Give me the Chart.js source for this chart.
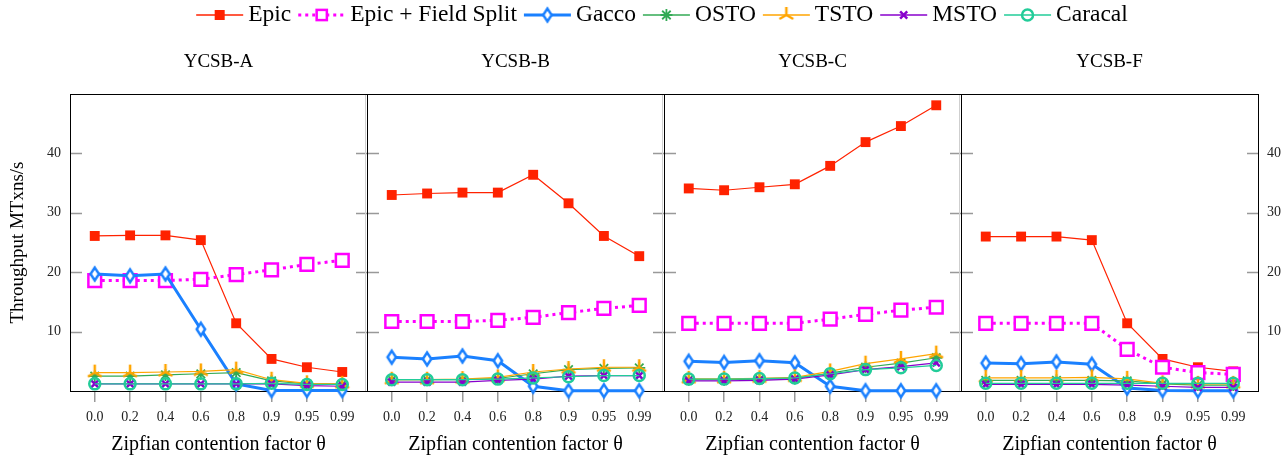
<!DOCTYPE html>
<html><head><meta charset="utf-8">
<script src="https://cdn.jsdelivr.net/npm/chart.js@4.4.0/dist/chart.umd.min.js"></script>
<style>
html,body{margin:0;padding:0;background:#fff;}
#wrap{position:relative;width:1287px;height:461px;overflow:hidden;background:#fff;}
canvas{position:absolute;top:0;}
</style></head><body><div id="wrap"></div>
<script>
// ---------- data ----------
const categories = ['0.0','0.2','0.4','0.6','0.8','0.9','0.95','0.99'];
const panelTitles = ['YCSB-A','YCSB-B','YCSB-C','YCSB-F'];
const yTicks = [10,20,30,40];
const seriesNames = ['Epic','Epic + Field Split','Gacco','OSTO','TSTO','MSTO','Caracal'];

const epicA    = [26.1, 26.2, 26.2, 25.4, 11.4, 5.4, 4.0, 3.2];
const epicFsA  = [18.6, 18.6, 18.6, 18.8, 19.6, 20.4, 21.3, 22.0];
const gaccoA   = [19.7, 19.4, 19.7, 10.4, 1.2, 0.1, 0.1, 0.1];
const ostoA    = [2.5, 2.5, 2.7, 2.9, 3.1, 1.7, 1.2, 1.1];
const tstoA    = [3.1, 3.1, 3.2, 3.3, 3.6, 1.9, 1.3, 1.2];
const mstoA    = [1.2, 1.2, 1.2, 1.2, 1.2, 1.2, 0.9, 0.8];
const caracalA = [1.2, 1.2, 1.2, 1.2, 1.2, 1.3, 1.1, 1.1];

const epicB    = [33.0, 33.25, 33.4, 33.4, 36.4, 31.6, 26.1, 22.7];
const epicFsB  = [11.7, 11.7, 11.7, 11.9, 12.4, 13.2, 13.9, 14.4];
const gaccoB   = [5.7, 5.4, 5.9, 5.1, 0.8, 0.05, 0.05, 0.05];
const ostoB    = [1.9, 1.9, 1.9, 2.1, 2.9, 3.6, 3.8, 3.9];
const tstoB    = [1.9, 1.9, 2.0, 2.3, 3.2, 3.7, 4.0, 4.0];
const mstoB    = [1.5, 1.5, 1.5, 1.8, 2.0, 2.5, 2.6, 2.6];
const caracalB = [1.9, 1.9, 1.9, 2.0, 2.2, 2.4, 2.6, 2.6];

const epicC    = [34.1, 33.8, 34.3, 34.8, 37.9, 41.9, 44.6, 48.1];
const epicFsC  = [11.4, 11.4, 11.4, 11.4, 12.1, 12.9, 13.6, 14.1];
const gaccoC   = [5.0, 4.8, 5.1, 4.75, 0.8, 0.05, 0.05, 0.05];
const ostoC    = [1.9, 1.9, 2.0, 2.1, 3.0, 4.0, 4.7, 5.6];
const tstoC    = [2.05, 2.05, 2.15, 2.3, 3.3, 4.6, 5.4, 6.3];
const mstoC    = [1.7, 1.7, 1.8, 2.0, 2.7, 3.6, 4.1, 4.75];
const caracalC = [2.0, 2.0, 2.1, 2.2, 2.9, 3.6, 3.9, 4.3];

const epicF    = [26.0, 26.0, 26.0, 25.4, 11.4, 5.4, 4.0, 3.3];
const epicFsF  = [11.4, 11.4, 11.4, 11.4, 7.0, 4.0, 3.1, 2.8];
const gaccoF   = [4.7, 4.6, 4.9, 4.5, 0.5, 0.1, 0.05, 0.05];
const ostoF    = [1.8, 1.8, 1.8, 1.8, 1.7, 1.2, 1.0, 1.0];
const tstoF    = [2.2, 2.2, 2.2, 2.3, 2.05, 1.3, 1.2, 1.2];
const mstoF    = [1.1, 1.1, 1.1, 1.1, 1.0, 0.8, 0.6, 0.6];
const caracalF = [1.3, 1.3, 1.3, 1.3, 1.3, 1.3, 1.3, 1.3];

const panels = [
  [epicA, epicFsA, gaccoA, ostoA, tstoA, mstoA, caracalA],
  [epicB, epicFsB, gaccoB, ostoB, tstoB, mstoB, caracalB],
  [epicC, epicFsC, gaccoC, ostoC, tstoC, mstoC, caracalC],
  [epicF, epicFsF, gaccoF, ostoF, tstoF, mstoF, caracalF]
];

// ---------- styles ----------
const FONT = "'Liberation Serif','Times New Roman',serif";
const colors = ['#ff2200','#ff00ff','#1a80ff','#33aa55','#ffa500','#8800cc','#22cc99'];

function makeDiamond(color){
  const c=document.createElement('canvas'); c.width=16; c.height=20;
  const x=c.getContext('2d'); x.beginPath();
  x.moveTo(8,3.6); x.lineTo(12.2,10); x.lineTo(8,16.4); x.lineTo(3.8,10); x.closePath();
  x.fillStyle='#fff'; x.fill(); x.lineWidth=2.5; x.strokeStyle=color; x.stroke(); return c;
}
function makeTri(color){
  const c=document.createElement('canvas'); c.width=20; c.height=20;
  const x=c.getContext('2d'); x.beginPath();
  x.moveTo(10,10); x.lineTo(10,2);
  x.moveTo(10,10); x.lineTo(3.1,14);
  x.moveTo(10,10); x.lineTo(16.9,14);
  x.lineWidth=2.5; x.strokeStyle=color; x.lineCap='butt'; x.stroke(); return c;
}
const diamondImg = makeDiamond(colors[2]);
const triImg = makeTri(colors[4]);

function styleFor(i){
  const c = colors[i];
  const base = {borderColor:c, backgroundColor:c, borderWidth:1.2, pointBorderColor:c, pointBackgroundColor:c, tension:0};
  switch(i){
    case 0: return Object.assign(base,{pointStyle:'rect', pointRadius:7, pointBorderWidth:0});
    case 1: return Object.assign(base,{borderWidth:3, borderDash:[3,4], pointStyle:'rect', pointRadius:9, pointBorderWidth:2.5, pointBackgroundColor:'#fff'});
    case 2: return Object.assign(base,{borderWidth:3, pointStyle:diamondImg});
    case 3: return Object.assign(base,{pointStyle:'star', pointRadius:6, pointBorderWidth:1.8});
    case 4: return Object.assign(base,{pointStyle:triImg});
    case 5: return Object.assign(base,{pointStyle:'crossRot', pointRadius:5, pointBorderWidth:2.5});
    case 6: return Object.assign(base,{pointStyle:'circle', pointRadius:5.5, pointBorderWidth:2.5, pointBackgroundColor:'rgba(0,0,0,0)'});
  }
}

const framePlugin = {
  id:'frame',
  beforeDatasetsDraw(chart, args, opts){
    const ctx = chart.ctx, a = chart.chartArea, ys = chart.scales.y;
    const L = Math.round(a.left), R = Math.round(a.right), T = Math.round(a.top), B = Math.round(a.bottom);
    ctx.save();
    ctx.strokeStyle = '#999'; ctx.lineWidth = 1.5;
    yTicks.forEach(v=>{
      const py = Math.round(ys.getPixelForValue(v))+0.5;
      ctx.beginPath();
      ctx.moveTo(L, py); ctx.lineTo(L+12, py);
      ctx.moveTo(R-11, py); ctx.lineTo(R+1, py);
      ctx.stroke();
    });
    if (!opts.last){
      ctx.strokeStyle = '#cfcfcf'; ctx.lineWidth = 1;
      ctx.beginPath(); ctx.moveTo(R-1.5, T); ctx.lineTo(R-1.5, B); ctx.stroke();
    }
    ctx.strokeStyle = '#000'; ctx.lineWidth = 1;
    ctx.strokeRect(L+0.5, T+0.5, R-L, B-T);
    ctx.restore();
  }
};

const wrap = document.getElementById('wrap');
const plotLefts = [70, 367, 664, 961];

panels.forEach((series, idx)=>{
  const cv = document.createElement('canvas');
  cv.width = 437; cv.height = 461; cv.style.left = (plotLefts[idx]-70)+'px';
  wrap.appendChild(cv);
  const isFirst = idx===0, isLast = idx===3;
  const yCommon = (pos, showTicks)=>({
    type:'linear', position:pos, min:0, max:50,
    afterBuildTicks: s=>{ s.ticks = yTicks.map(v=>({value:v})); },
    ticks:{display:showTicks, font:{family:FONT,size:14}, color:'#222', padding:9},
    grid:{display:false, drawTicks:false}, border:{display:false},
    afterFit: s=>{ s.width = 70; }
  });
  const yL = yCommon('left', isFirst);
  yL.title = {display:isFirst, text:'Throughput MTxns/s', font:{family:FONT,size:19}, color:'#000', padding:{top:7,bottom:0}};
  const yR = yCommon('right', isLast);
  new Chart(cv, {
    type:'line',
    data:{datasets: series.map((vals,i)=>Object.assign({
      label: seriesNames[i],
      data: vals.map((v,k)=>({x:k, y:v})),
      clip:false, order:6-i, yAxisID:'y'
    }, styleFor(i)))},
    options:{
      responsive:false, animation:false, events:[],
      layout:{padding:0},
      plugins:{
        legend:{display:false}, tooltip:{enabled:false},
        title:{display:true, text:panelTitles[idx], font:{family:FONT,size:19,weight:'normal'}, color:'#000', padding:{top:50.6,bottom:20.6}},
        frame:{last:isLast}
      },
      scales:{
        x:{
          type:'linear', min:-0.7, max:7.7,
          afterBuildTicks: s=>{ s.ticks = categories.map((c,k)=>({value:k})); },
          ticks:{callback:(v,k)=>categories[k], font:{family:FONT,size:14}, color:'#222', padding:6.5, maxRotation:0, autoSkip:false},
          grid:{drawOnChartArea:false, drawTicks:true, tickLength:11, color:'#999', lineWidth:1.5},
          border:{display:false},
          title:{display:true, text:'Zipfian contention factor θ', font:{family:FONT,size:20}, color:'#000', padding:{top:0,bottom:4}},
          afterFit: s=>{ s.height = 70; }
        },
        y: yL,
        y2: yR
      }
    },
    plugins:[framePlugin]
  });
});

// ---------- legend ----------
function drawMarker(ctx, i, x, y){
  const c = colors[i];
  ctx.save();
  ctx.strokeStyle = c; ctx.fillStyle = c; ctx.setLineDash([]);
  if (i===0){ ctx.fillRect(x-5, y-5, 10, 10); }
  else if (i===1){ ctx.fillStyle='#fff'; ctx.fillRect(x-6.3,y-6.3,12.6,12.6); ctx.lineWidth=2.5; ctx.strokeRect(x-5.1,y-5.1,10.2,10.2); }
  else if (i===2){ ctx.drawImage(diamondImg, x-8, y-10); }
  else if (i===3){ ctx.lineWidth=1.8; ctx.beginPath();
    for (let k=0;k<4;k++){ const a=k*Math.PI/4; ctx.moveTo(x-6*Math.cos(a), y-6*Math.sin(a)); ctx.lineTo(x+6*Math.cos(a), y+6*Math.sin(a)); }
    ctx.stroke(); }
  else if (i===4){ ctx.drawImage(triImg, x-10, y-10); }
  else if (i===5){ ctx.lineWidth=2.5; ctx.beginPath(); const r=5*Math.SQRT1_2;
    ctx.moveTo(x-r,y-r); ctx.lineTo(x+r,y+r); ctx.moveTo(x-r,y+r); ctx.lineTo(x+r,y-r); ctx.stroke(); }
  else if (i===6){ ctx.lineWidth=2.5; ctx.beginPath(); ctx.arc(x,y,5.5,0,Math.PI*2); ctx.stroke(); }
  ctx.restore();
}
const legendPlugin = {
  id:'customLegend',
  afterDraw(chart){
    const ctx = chart.ctx;
    ctx.save();
    ctx.font = '23.5px ' + FONT;
    const lineLen = 47, gap1 = 5, gap2 = 7;
    const names = chart.data.datasets.map(d=>d.label);
    const widths = names.map(n=>ctx.measureText(n).width);
    const total = widths.reduce((s,w)=>s+lineLen+gap1+w,0) + gap2*(names.length-1);
    let x = 662 - total/2; const y = 15;
    names.forEach((n,i)=>{
      const ds = chart.data.datasets[i];
      ctx.strokeStyle = colors[i]; ctx.lineWidth = Math.max(1.4, ds.borderWidth);
      ctx.setLineDash(ds.borderDash || []);
      ctx.beginPath(); ctx.moveTo(x, y); ctx.lineTo(x+lineLen, y); ctx.stroke();
      ctx.setLineDash([]);
      drawMarker(ctx, i, x+lineLen/2, y);
      ctx.fillStyle = '#000'; ctx.textBaseline = 'middle'; ctx.textAlign = 'left';
      ctx.fillText(n, x+lineLen+gap1, y);
      x += lineLen + gap1 + widths[i] + gap2;
    });
    ctx.restore();
  }
};
const lc = document.createElement('canvas');
lc.width = 1287; lc.height = 32; lc.style.left = '0px';
wrap.appendChild(lc);
new Chart(lc, {
  type:'line',
  data:{datasets: seriesNames.map((n,i)=>Object.assign({label:n, data:[]}, styleFor(i)))},
  options:{responsive:false, animation:false, events:[],
    plugins:{legend:{display:false}, tooltip:{enabled:false}},
    scales:{x:{display:false}, y:{display:false}}},
  plugins:[legendPlugin]
});
</script>
</body></html>
